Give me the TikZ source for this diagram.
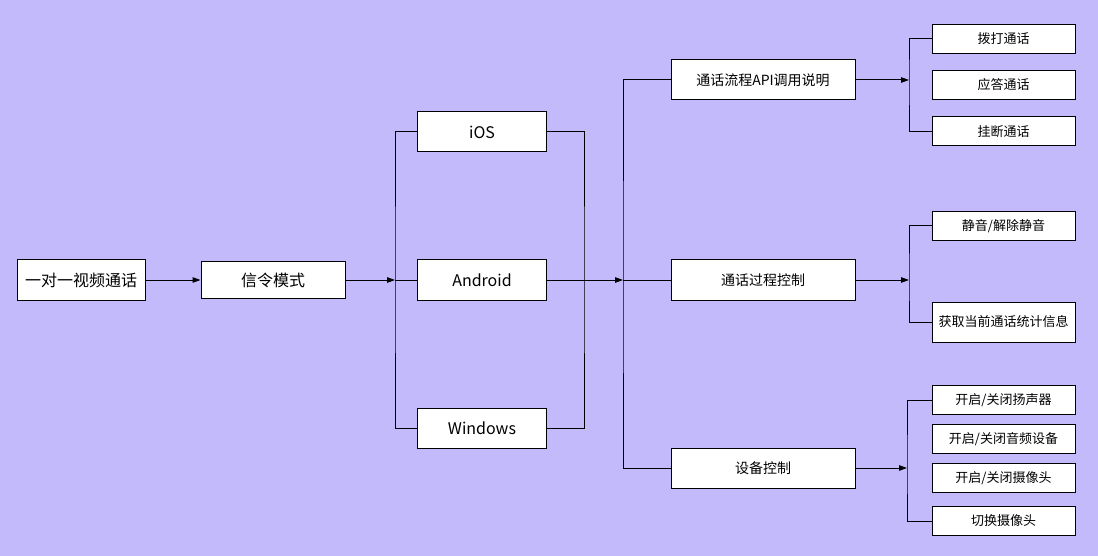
\documentclass[tikz,border=0pt]{standalone}
\usepackage{fontspec}
\setmainfont{Noto Sans CJK SC}
\usetikzlibrary{arrows.meta,positioning}
\definecolor{bglavender}{RGB}{195,186,252}

\begin{document}
\begin{tikzpicture}[x=1pt,y=-1pt]
		% Styles
		\tikzset{
			box/.style={draw=black, fill=white, line width=1pt, inner sep=0pt, minimum height=40pt},
			bigbox/.style={box, font=\fontsize{16}{16}\selectfont},
			midbox/.style={box, minimum width=184pt, font=\fontsize{14}{14}\selectfont},
			leafbox/.style={box, minimum width=143pt, minimum height=29pt, font=\fontsize{13}{13}\selectfont},
			link/.style={draw=black, line width=1pt},
			arrow/.style={link, -{Triangle[length=8pt,width=5.5pt]}}
		}

		% Background
		\fill[bglavender] (0,0) rectangle (1098,556);
		\useasboundingbox (0,0) rectangle (1098,556);

		% Left part
		\node[bigbox, minimum width=128pt] (call) at (81,280) {一对一视频通话};
		\node[bigbox, minimum width=144pt, minimum height=37pt] (signal) at (273,280) {信令模式};

		% Platforms
		\node[bigbox, minimum width=129pt] (ios) at (482,132) {iOS};
		\node[bigbox, minimum width=129pt] (android) at (482,280) {Android};
		\node[bigbox, minimum width=129pt] (windows) at (482,428) {Windows};

		% Topics
		\node[midbox] (api) at (763,80) {通话流程API调用说明};
		\node[midbox] (proc) at (763,280) {通话过程控制};
		\node[midbox] (device) at (763,468) {设备控制};

		% Leaves
		\node[leafbox] (dial) at (1003.5,39) {拨打通话};
		\node[leafbox] (answer) at (1003.5,85) {应答通话};
		\node[leafbox] (hangup) at (1003.5,131.5) {挂断通话};
		\node[leafbox] (mute) at (1003.5,226) {静音/解除静音};
		\node[leafbox, minimum height=40pt] (stats) at (1003.5,322) {获取当前通话统计信息};
		\node[leafbox] (speaker) at (1003.5,400) {开启/关闭扬声器};
		\node[leafbox] (audio) at (1003.5,439) {开启/关闭音频设备};
		\node[leafbox] (camera) at (1003.5,478) {开启/关闭摄像头};
		\node[leafbox] (switchcam) at (1003.5,521) {切换摄像头};

		% Bus points
		\coordinate (busA) at (395,280);
		\coordinate (busB) at (584,280);
		\coordinate (busC) at (623,280);
		\coordinate (busD) at (909,80);
		\coordinate (busE) at (909,280);
		\coordinate (busF) at (907,468);

		% Connectors
		\draw[arrow] (call) -- (signal);
		\draw[arrow] (signal) -- (busA);
		\draw[link] (ios.west) -| (busA) |- (windows.west);
		\draw[link] (busA) -- (android);
		\draw[link] (ios.east) -| (busB) |- (windows.east);
		\draw[arrow] (android) -- (busC);
		\draw[link] (api.west) -| (busC) |- (device.west);
		\draw[link] (busC) -- (proc);

		\draw[arrow] (api) -- (busD);
		\draw[link] (dial.west) -| (busD) |- (hangup.west);
		\draw[arrow] (proc) -- (busE);
		\draw[link] (mute.west) -| (busE) |- (stats.west);
		\draw[arrow] (device) -- (busF);
		\draw[link] (speaker.west) -| (busF) |- (switchcam.west);

	\end{tikzpicture}
\end{document}
